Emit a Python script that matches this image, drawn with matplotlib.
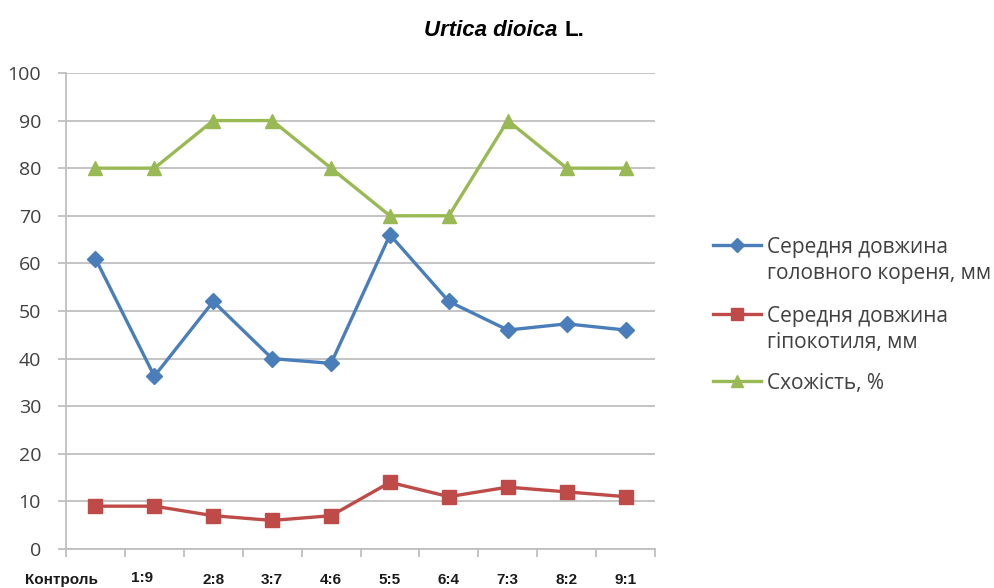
import numpy as np
import matplotlib.pyplot as plt
from matplotlib.lines import Line2D
from matplotlib.transforms import ScaledTranslation

categories = ['Контроль', '1:9', '2:8', '3:7', '4:6', '5:5', '6:4', '7:3', '8:2', '9:1']
root_len = [61, 36.3, 52, 40, 39, 66, 52, 46, 47.3, 46]
hypocotyl_len = [9, 9, 7, 6, 7, 14, 11, 13, 12, 11]
germination = [80, 80, 90, 90, 80, 70, 70, 90, 80, 80]
series_labels = ['Середня довжина\nголовного кореня, мм',
                 'Середня довжина\nгіпокотиля, мм',
                 'Схожість, %']
yticks = [0, 10, 20, 30, 40, 50, 60, 70, 80, 90, 100]

colors = ['#4A7EBB', '#BE4B48', '#98B954']
markers = ['D', 's', '^']
msizes = [8, 10, 10]
grid_col = '#BFBFBF'

fig = plt.figure(figsize=(9.94, 5.88), dpi=100)
ax = fig.add_axes([0.0664, 0.0663, 0.5926, 0.8096])

x = np.arange(len(categories))
for vals, c, m, ms in zip([root_len, hypocotyl_len, germination], colors, markers, msizes):
    ax.plot(x, vals, color=c, lw=2.4, marker=m, ms=ms, mec=c, mfc=c, zorder=3)

ax.set_xlim(-0.5, len(categories) - 0.5)
ax.set_ylim(0, 100)
ax.set_yticks(yticks)
ax.grid(axis='y', color=grid_col, lw=1.3)
ax.set_axisbelow(True)
for s in ['top', 'right']:
    ax.spines[s].set_visible(False)
for s in ['left', 'bottom']:
    ax.spines[s].set_color(grid_col)
    ax.spines[s].set_linewidth(1.3)
ax.tick_params(axis='y', length=6, width=1.3, color=grid_col, pad=12,
               labelsize=14, labelcolor='#404040')
for t in ax.get_yticklabels():
    t.set_fontfamily('Open Sans')

# category boundaries get the tick marks, labels sit under the points
ax.set_xticks(np.arange(-0.5, len(categories)), [''] * (len(categories) + 1))
ax.set_xticks(x, categories, minor=True)
ax.tick_params(axis='x', which='major', length=6, width=1.3, color=grid_col, direction='out')
ax.tick_params(axis='x', which='minor', length=0, pad=17, labelsize=11, labelcolor='#1a1a1a')
for i, t in enumerate(ax.get_xticklabels(minor=True)):
    t.set_fontweight('bold')
    t.set_fontfamily('Liberation Sans')
    if i == 0:
        t.set_transform(t.get_transform() + ScaledTranslation(-0.34, 0, fig.dpi_scale_trans))
    elif i == 1:
        t.set_transform(t.get_transform() + ScaledTranslation(-0.12, 0.02, fig.dpi_scale_trans))

# title: italic species name + plain authority
fig.text(0.5605, 0.948, 'Urtica dioica', ha='right', va='center', fontsize=16,
         fontweight='bold', fontstyle='italic', family='Liberation Sans')
fig.text(0.568, 0.948, 'L.', ha='left', va='center', fontsize=16,
         fontweight='bold', family='Liberation Sans')

# legend drawn by hand so the marker sits on the first text line
leg_y = [0.583, 0.466, 0.352]
for lab, c, m, ms, yy in zip(series_labels, colors, markers, msizes, leg_y):
    fig.add_artist(Line2D([0.717, 0.766], [yy, yy], transform=fig.transFigure,
                          color=c, lw=2.4))
    fig.add_artist(Line2D([0.7415], [yy], transform=fig.transFigure, color=c,
                          marker=m, ms=ms * 0.9, mec=c, mfc=c))
    fig.text(0.772, yy + 0.014, lab, ha='left', va='top', fontsize=15,
             color='#404040', family='Open Sans', linespacing=1.3)

fig.savefig('out.png', dpi=100)
